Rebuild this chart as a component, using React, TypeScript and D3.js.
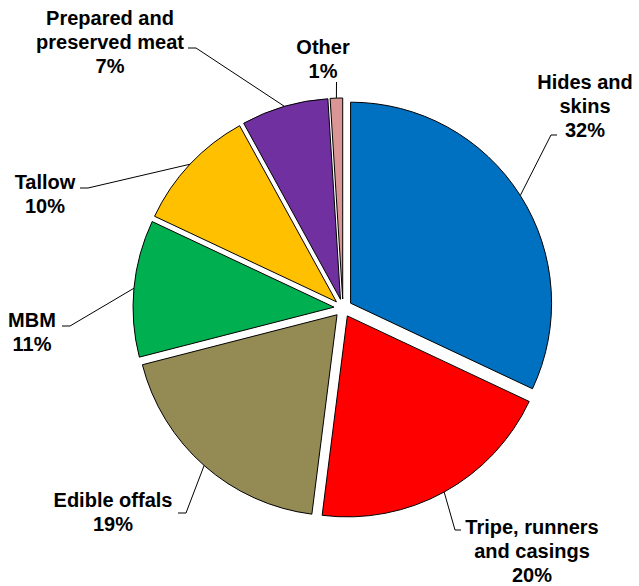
import React from "react";
import * as d3 from "d3";

const categories = [
  "Hides and skins",
  "Tripe, runners and casings",
  "Edible offals",
  "MBM",
  "Tallow",
  "Prepared and preserved meat",
  "Other",
];
const values = [32, 20, 19, 11, 10, 7, 1];
const colors = ["#0070C0", "#FF0000", "#948A54", "#00B050", "#FFC000", "#7030A0", "#D99694"];
const labelLines = [
  ["Hides and", "skins", "32%"],
  ["Tripe, runners", "and casings", "20%"],
  ["Edible offals", "19%"],
  ["MBM", "11%"],
  ["Tallow", "10%"],
  ["Prepared and", "preserved meat", "7%"],
  ["Other", "1%"],
];

// layout: label center x, first baseline y, leader path points (label side then elbow)
const labelLayout = [
  { x: 585, y: 89, leader: [[557, 135], [551, 135]] },
  { x: 532, y: 534, leader: [[461, 530], [455, 530]] },
  { x: 113, y: 507, leader: [[178, 513], [186, 513]] },
  { x: 32, y: 327, leader: [[62, 326], [70, 326]] },
  { x: 45, y: 189, leader: [[80, 188], [88, 188]] },
  { x: 110, y: 25, leader: [[188, 48], [196, 48]] },
  { x: 323, y: 54, leader: [[336.5, 82]] },
];

const W = 639;
const H = 586;
const cx = 343;
const cy = 308;
const R = 201;
const explode = 9;
const lineH = 24;

export default function App() {
  const data = values.map((v, i) => ({ v, i }));
  const pie = d3
    .pie<{ v: number; i: number }>()
    .sort(null)
    .value((d) => d.v)
    .startAngle(0)
    .endAngle(2 * Math.PI);
  const arcs = pie(data);
  const arcGen = d3.arc<any>().innerRadius(0).outerRadius(R);

  return (
    <svg
      width={W}
      height={H}
      style={{ position: "absolute", left: 0, top: 0, background: "#fff" }}
    >
      <g transform={`translate(${cx},${cy})`}>
        {arcs.map((a, k) => {
          const mid = (a.startAngle + a.endAngle) / 2;
          const dx = Math.sin(mid) * explode;
          const dy = -Math.cos(mid) * explode;
          return (
            <path
              key={k}
              d={arcGen(a) as string}
              transform={`translate(${dx},${dy})`}
              fill={colors[a.data.i]}
              stroke="#000"
              strokeWidth={1}
              strokeLinejoin="round"
            />
          );
        })}
      </g>
      {arcs.map((a, k) => {
        const mid = (a.startAngle + a.endAngle) / 2;
        const px = cx + Math.sin(mid) * (R + explode);
        const py = cy - Math.cos(mid) * (R + explode);
        const lay = labelLayout[k];
        const pts = [...lay.leader, [px, py]];
        return (
          <polyline
            key={"l" + k}
            points={pts.map((p) => p.join(",")).join(" ")}
            fill="none"
            stroke="#000"
            strokeWidth={1}
          />
        );
      })}
      {labelLines.map((lines, k) => {
        const lay = labelLayout[k];
        return (
          <text
            key={"t" + k}
            x={lay.x}
            y={lay.y}
            textAnchor="middle"
            fontFamily="'Liberation Sans', Arial, sans-serif"
            fontWeight="bold"
            fontSize={20}
            fill="#000"
          >
            {lines.map((ln, j) => (
              <tspan key={j} x={lay.x} dy={j === 0 ? 0 : lineH}>
                {ln}
              </tspan>
            ))}
          </text>
        );
      })}
    </svg>
  );
}
